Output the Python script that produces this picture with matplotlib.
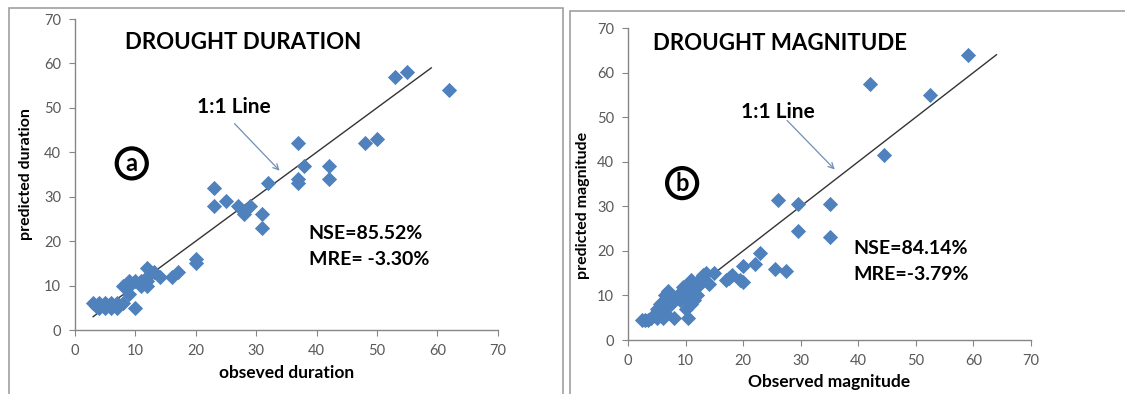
import numpy as np
import matplotlib
matplotlib.use("Agg")
import matplotlib.pyplot as plt
from matplotlib.patches import Rectangle

plt.rcParams['font.family'] = ['Lato', 'DejaVu Sans']

# panel a: drought duration (observed, predicted)
dur_obs = [62, 53, 55, 48, 50, 37, 38, 42, 42, 37, 37, 32, 23, 23, 25, 27, 28, 29,
           31, 31, 20, 20, 17, 16, 14, 12, 13, 12, 11, 12, 10, 9, 8, 9, 10, 8, 7,
           7, 6, 6, 5, 5, 4, 4, 3, 3.5, 9, 11, 12]
dur_pred = [54, 57, 58, 42, 43, 42, 37, 37, 34, 34, 33, 33, 32, 28, 29, 28, 26, 28,
            26, 23, 16, 15, 13, 12, 12, 14, 13, 12, 10, 10, 11, 11, 10, 8, 5, 6, 6,
            5, 5, 6, 6, 5, 6, 5, 6, 5.5, 10, 11, 11]

# panel b: drought magnitude (observed, predicted)
mag_obs = [59, 42, 52.5, 44.5, 26, 29.5, 35, 29.5, 35, 23, 22, 20, 25.5, 27.5, 19.5,
           20, 17.5, 18, 17, 15, 14, 13, 13.5, 12, 11, 10, 9.5, 10, 9, 11, 11.5, 12,
           11, 10, 10.5, 8, 7, 6.5, 6, 7, 7.5, 5.5, 6, 5, 6, 5, 4.5, 4, 3.5, 3, 2.5,
           6.5, 8, 12.5, 10, 11, 9]
mag_pred = [64, 57.5, 55, 41.5, 31.5, 30.5, 30.5, 24.5, 23, 19.5, 17, 16.5, 16, 15.5,
            13.5, 13, 14, 14.5, 13.5, 15, 12.5, 14.5, 15, 13, 13.5, 12, 12, 11, 10.5,
            10, 9, 10, 8, 7, 5, 5, 11, 10, 8.5, 9, 8, 8, 6.5, 7, 5, 5, 5.5, 5, 4.5,
            4.5, 4.5, 6, 9, 12.5, 9.5, 11, 9]

line_a = [3, 59]
line_b = [3, 64]

W, H = 1125, 394
BLUE = "#4F81BD"
GRAY_TXT = "#595959"
GRAY_AX = "#868686"

fig = plt.figure(figsize=(W / 100, H / 100), dpi=100)

# outer chart frames
fig.patches.append(Rectangle((9 / W, -0.05), (563 - 9) / W, 1.05 - 8 / H,
                             transform=fig.transFigure, fill=False,
                             ec="#a0a0a0", lw=1.2))
fig.patches.append(Rectangle((570 / W, -0.05), 0.6, 1.05 - 11 / H,
                             transform=fig.transFigure, fill=False,
                             ec="#a0a0a0", lw=1.2))


def px_axes(x0, x1, ytop, ybot):
    return fig.add_axes([x0 / W, (H - ybot) / H, (x1 - x0) / W, (ybot - ytop) / H])


def style(ax):
    ax.set_xlim(0, 70)
    ax.set_ylim(0, 70)
    ax.set_xticks(range(0, 71, 10))
    ax.set_yticks(range(0, 71, 10))
    for s in ("top", "right"):
        ax.spines[s].set_visible(False)
    for s in ("left", "bottom"):
        ax.spines[s].set_color(GRAY_AX)
        ax.spines[s].set_linewidth(1)
    ax.tick_params(direction="out", length=4, color=GRAY_AX, labelcolor=GRAY_TXT,
                   labelsize=10.5, pad=6)
    ax.patch.set_alpha(0)


def circled(ax, x, y, letter):
    ax.text(x, y, letter, fontsize=17, fontweight="bold", ha="center", va="center",
            bbox=dict(boxstyle="circle,pad=0.15", fc="white", ec="black", lw=3))


# ---- panel a
ax = px_axes(75, 497.7, 19, 330)
style(ax)
ax.plot(line_a, line_a, color="#333333", lw=1)
ax.scatter(dur_obs, dur_pred, marker="D", s=60, color=BLUE, lw=0, zorder=3)
ax.text(8.3, 64.8, "DROUGHT DURATION", fontsize=16, fontweight="bold", va="center")
ax.text(20.2, 50.2, "1:1 Line", fontsize=15, fontweight="bold", va="center")
ax.annotate("", xy=(34.2, 35.4), xytext=(26.1, 46.9),
            arrowprops=dict(arrowstyle="->", color="#6f8fb5", lw=0.9))
circled(ax, 9.4, 37.5, "a")
ax.text(38.7, 21.8, "NSE=85.52%", fontsize=14, fontweight="bold", va="center")
ax.text(38.7, 15.8, "MRE= -3.30%", fontsize=14, fontweight="bold", va="center")
ax.set_xlabel("obseved duration", fontsize=12.5, fontweight="bold")
ax.set_ylabel("predicted duration", fontsize=11.5, fontweight="bold")
ax.xaxis.set_label_coords(0.5, -0.112)
ax.yaxis.set_label_coords(-0.099, 0.5)

# ---- panel b
ax = px_axes(628, 1031, 28, 340)
style(ax)
ax.plot(line_b, line_b, color="#333333", lw=1)
ax.scatter(mag_obs, mag_pred, marker="D", s=60, color=BLUE, lw=0, zorder=3)
ax.text(4.3, 66.6, "DROUGHT MAGNITUDE", fontsize=16, fontweight="bold", va="center")
ax.text(19.6, 51.1, "1:1 Line", fontsize=15, fontweight="bold", va="center")
ax.annotate("", xy=(36.25, 37.8), xytext=(27.3, 49.7),
            arrowprops=dict(arrowstyle="->", color="#6f8fb5", lw=0.9))
circled(ax, 9.4, 35.2, "b")
ax.text(39.1, 20.6, "NSE=84.14%", fontsize=14, fontweight="bold", va="center")
ax.text(39.1, 14.6, "MRE=-3.79%", fontsize=14, fontweight="bold", va="center")
ax.set_xlabel("Observed magnitude", fontsize=12.5, fontweight="bold")
ax.set_ylabel("predicted magnitude", fontsize=11.5, fontweight="bold")
ax.xaxis.set_label_coords(0.5, -0.108)
ax.yaxis.set_label_coords(-0.094, 0.43)

fig.savefig("out.png", dpi=100)
